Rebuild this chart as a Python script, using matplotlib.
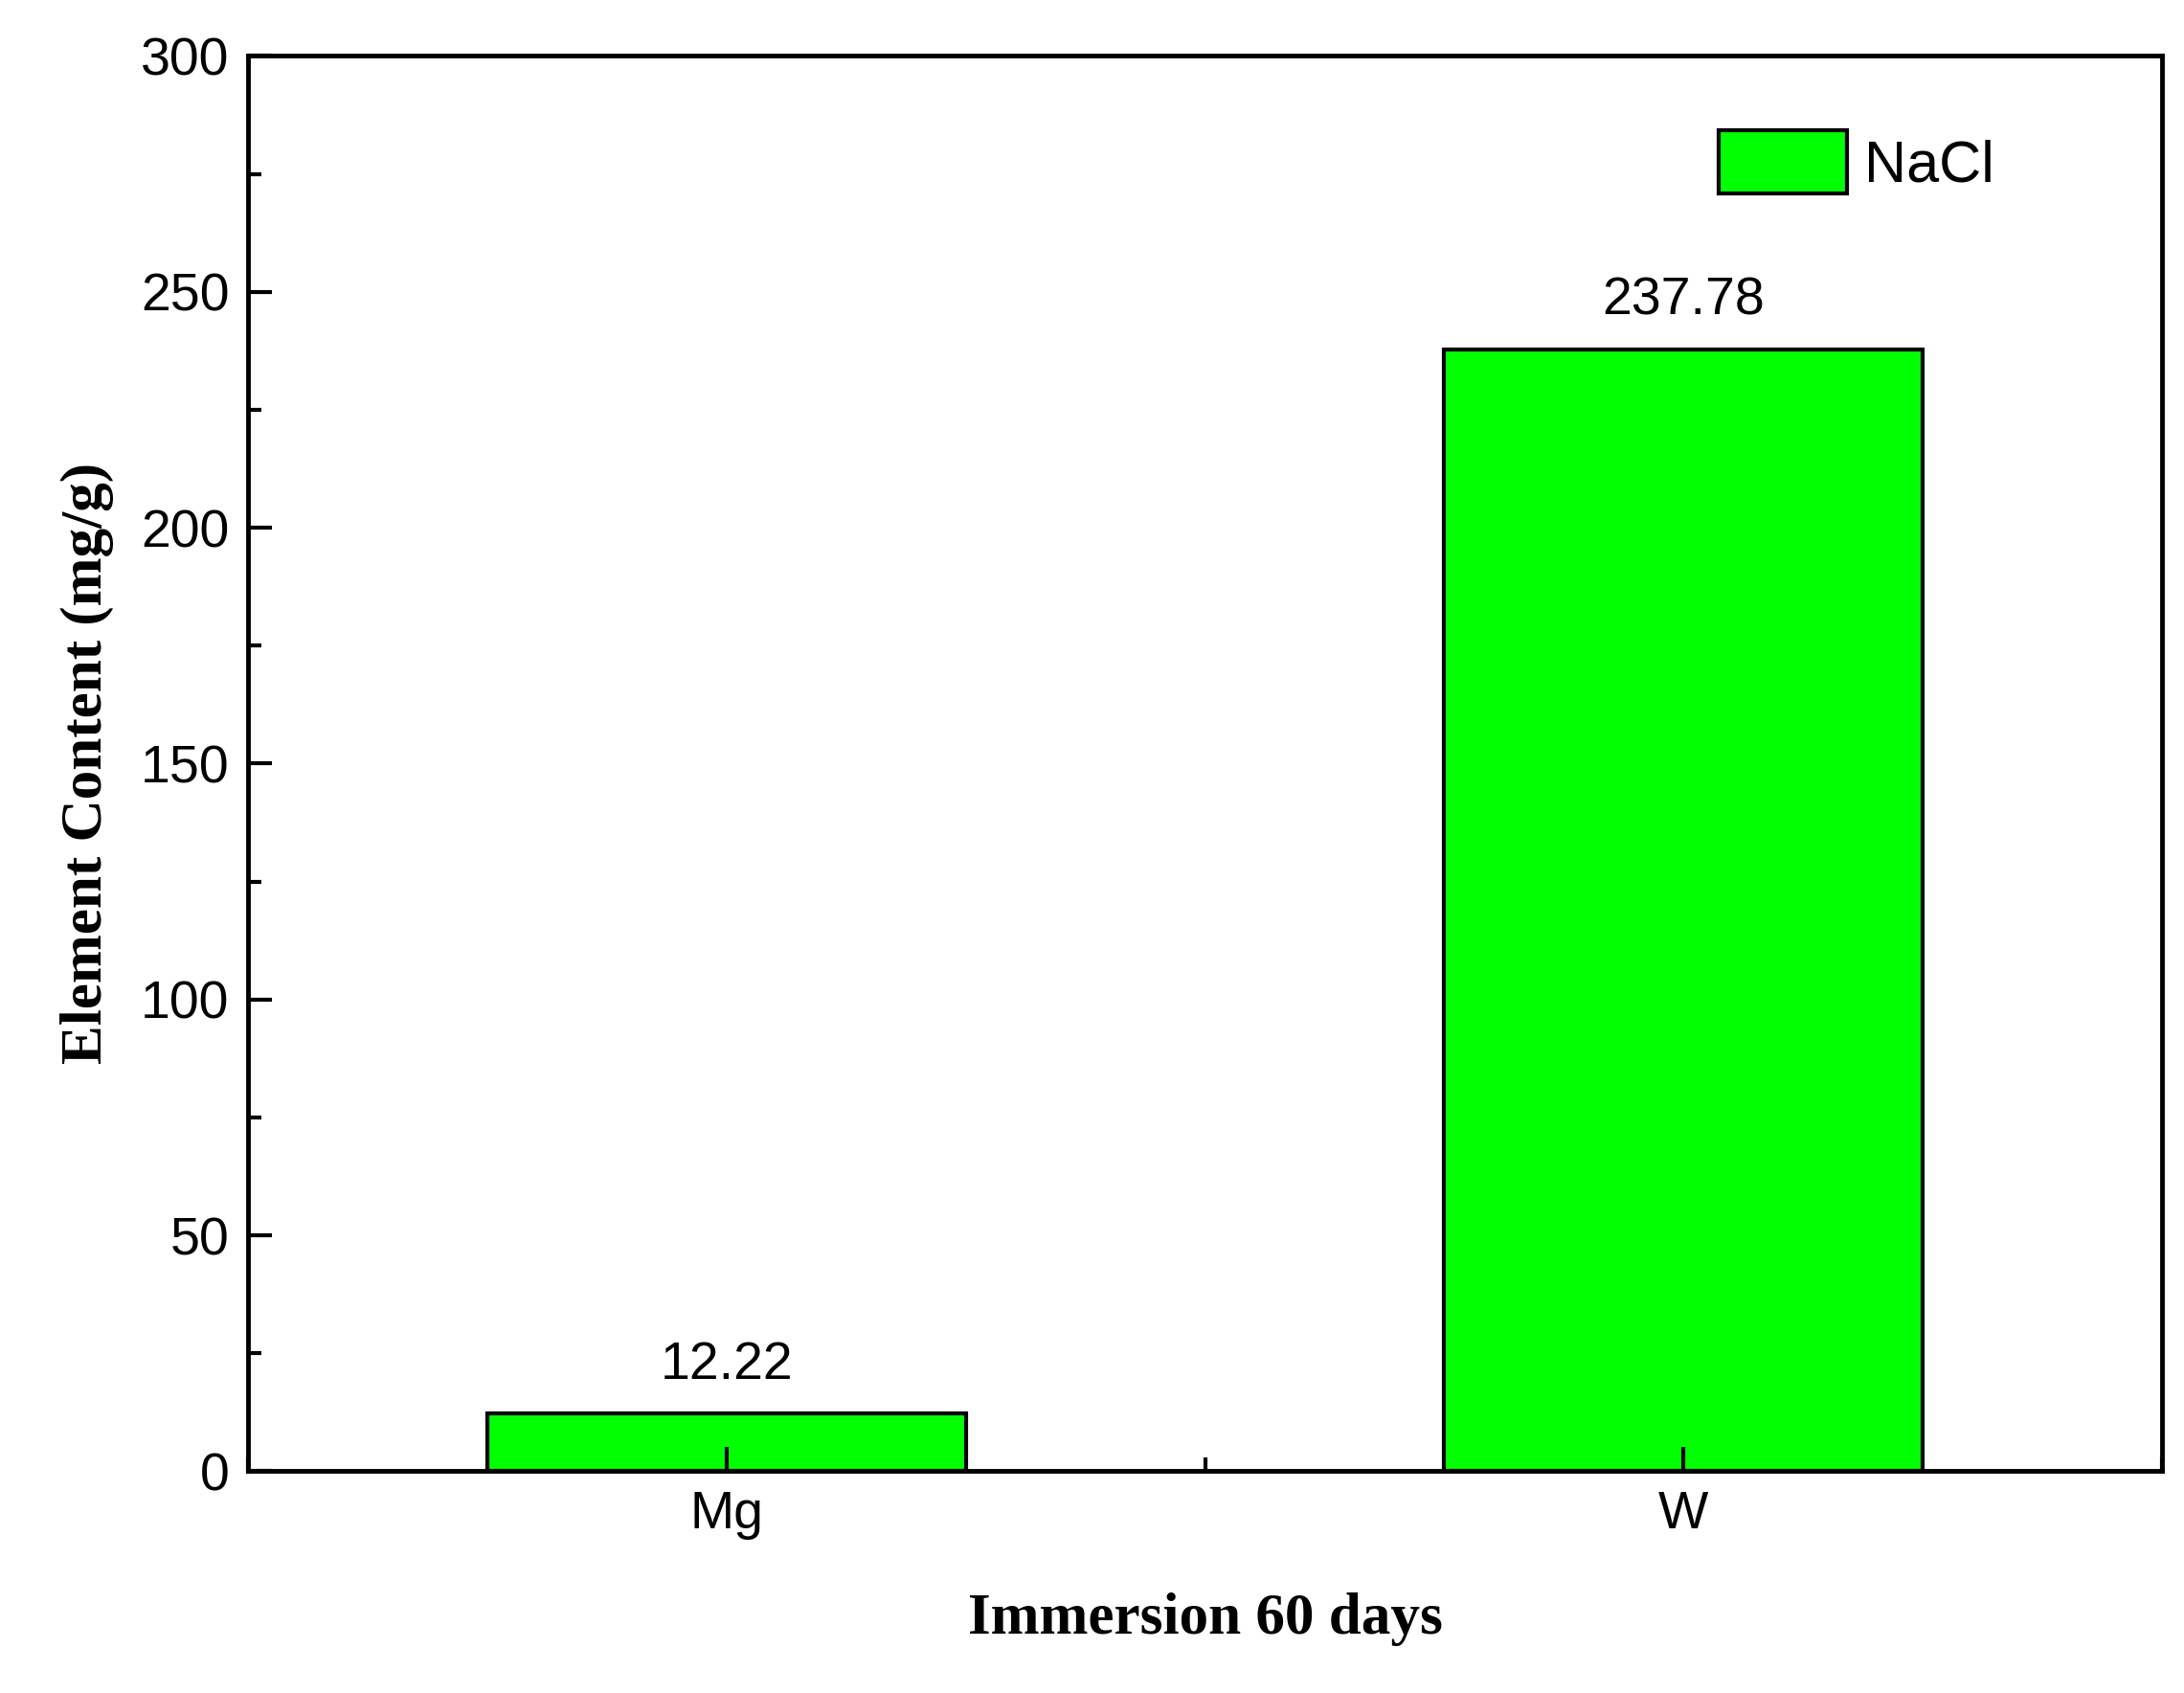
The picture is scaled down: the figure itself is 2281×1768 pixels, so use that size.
import matplotlib
matplotlib.use("Agg")
import matplotlib.pyplot as plt
from matplotlib.ticker import MultipleLocator

elements = ["Mg", "W"]
content = [12.22, 237.78]
series_name = "NaCl"

fig = plt.figure(figsize=(22.81, 17.68), dpi=100)
ax = fig.add_axes([0.1135, 0.131, 0.8765, 0.836])

pos = [1, 2]
ax.bar(pos, content, width=0.5, color="#00ff00", edgecolor="black", linewidth=3, label=series_name)
for x, v in zip(pos, content):
    ax.text(x, v + 5, f"{v:.2f}", ha="center", va="bottom", fontsize=40, family="Liberation Sans")

ax.set_xlim(0.5, 2.5)
ax.set_ylim(0, 300)
ax.set_xticks(pos)
ax.set_xticklabels(elements)
ax.xaxis.set_minor_locator(MultipleLocator(0.5))
ax.yaxis.set_major_locator(MultipleLocator(50))
ax.yaxis.set_minor_locator(MultipleLocator(25))
ax.tick_params(axis="both", which="major", direction="in", length=18, width=3, labelsize=40, pad=14)
ax.tick_params(axis="both", which="minor", direction="in", length=10, width=3)
ax.tick_params(top=False, right=False, which="both")
for lab in ax.get_xticklabels() + ax.get_yticklabels():
    lab.set_family("Liberation Sans")
for s in ax.spines.values():
    s.set_linewidth(3.5)

ax.set_xlabel("Immersion 60 days", fontsize=44, fontweight="bold", family="Liberation Serif", labelpad=40)
ax.set_ylabel("Element Content (mg/g)", fontsize=44, fontweight="bold", family="Liberation Serif", labelpad=20)

leg = ax.legend(loc="upper right", bbox_to_anchor=(0.94, 0.985), frameon=False,
                prop={"family": "Liberation Sans", "size": 44},
                handlelength=2.2, handleheight=1.3, handletextpad=0.3)

fig.savefig("out.png", dpi=100)
